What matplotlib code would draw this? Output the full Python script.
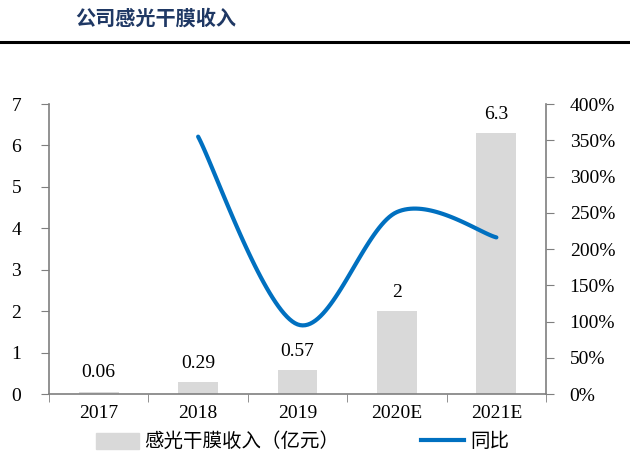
import numpy as np
import matplotlib
matplotlib.use('Agg')
import matplotlib.pyplot as plt
from matplotlib.lines import Line2D
from matplotlib.patches import Patch

plt.rcParams['font.family'] = ['Liberation Serif', 'Noto Sans CJK SC']

years = ['2017', '2018', '2019', '2020E', '2021E']
revenue = [0.06, 0.29, 0.57, 2, 6.3]
revenue_labels = ['0.06', '0.29', '0.57', '2', '6.3']
yoy_years = [1, 2, 3, 4]
yoy = [3.55, 0.96, 2.51, 2.16]

bar_color = '#D9D9D9'
line_color = '#0070C0'
axis_color = '#7F7F7F'


def smooth(xs, ys, n=40):
    # bezier curve through the points, excel style smoothed line
    pts = np.column_stack([xs, ys]).astype(float)
    ext = np.vstack([pts[0], pts, pts[-1]])
    out = []
    for i in range(len(pts) - 1):
        p0, p1, p2, p3 = ext[i], ext[i + 1], ext[i + 2], ext[i + 3]
        c1 = p1 + (p2 - p0) / 6
        c2 = p2 - (p3 - p1) / 6
        t = np.linspace(0, 1, n)[:, None]
        seg = ((1 - t) ** 3) * p1 + 3 * ((1 - t) ** 2) * t * c1 + 3 * (1 - t) * t ** 2 * c2 + t ** 3 * p2
        out.append(seg if i == 0 else seg[1:])
    out = np.vstack(out)
    return out[:, 0], out[:, 1]


fig = plt.figure(figsize=(6.3, 4.7), dpi=100)
ax = fig.add_axes([0.0778, 0.1617, 0.789, 0.617])
x = np.arange(len(years))
ax.bar(x, revenue, width=0.4, color=bar_color, zorder=2)
for xi, v, lab in zip(x, revenue, revenue_labels):
    ax.text(xi, v + 0.25, lab, ha='center', va='bottom', fontsize=14, color='black')

ax.set_xlim(-0.5, len(years) - 0.5)
ax.set_ylim(0, 7)
ax.set_yticks(range(0, 8))
ax.set_xticks(x)
ax.set_xticklabels(years, fontsize=14)
ax.set_xticks(np.arange(-0.5, len(years), 1), minor=True)
ax.tick_params(axis='x', which='major', length=0, pad=8)
ax.tick_params(axis='x', which='minor', length=6, direction='out', color=axis_color)
ax.tick_params(axis='y', labelsize=14, length=6, direction='out', color=axis_color, pad=14)
ax.spines['top'].set_visible(False)
ax.spines['right'].set_visible(False)
ax.spines['left'].set_color(axis_color)
ax.spines['bottom'].set_color(axis_color)
ax.spines['left'].set_linewidth(1.2)
ax.spines['bottom'].set_linewidth(1.2)

ax2 = ax.twinx()
sx, sy = smooth(yoy_years, yoy)
ax2.plot(sx, sy, color=line_color, lw=3, solid_capstyle='round', zorder=3)
ax2.set_ylim(0, 4)
ax2.set_yticks(np.arange(0, 4.01, 0.5))
ax2.set_yticklabels(['%d%%' % round(v * 100) for v in np.arange(0, 4.01, 0.5)])
ax2.tick_params(axis='y', labelsize=14, length=6, direction='out', color=axis_color, pad=11)
for s in ['top', 'left', 'bottom']:
    ax2.spines[s].set_visible(False)
ax2.spines['right'].set_color(axis_color)
ax2.spines['right'].set_linewidth(1.2)

fig.text(0.119, 0.962, '公司感光干膜收入', fontsize=14.5, fontweight='bold', color='#1F3864',
         family=['Noto Sans CJK SC'], va='center', ha='left')
fig.add_artist(Line2D([0, 1], [0.911, 0.911], color='black', lw=2.2, transform=fig.transFigure))

handles = [Patch(color=bar_color), Line2D([], [], color=line_color, lw=3)]
fig.legend(handles, ['感光干膜收入（亿元）', '同比'], loc='center', bbox_to_anchor=(0.48, 0.06),
           ncol=2, frameon=False, handlelength=2.2, handleheight=0.9,
           handletextpad=0.3, columnspacing=4.2, prop={'family': ['Noto Sans CJK SC'], 'size': 14})

fig.savefig('out.png', dpi=100)
